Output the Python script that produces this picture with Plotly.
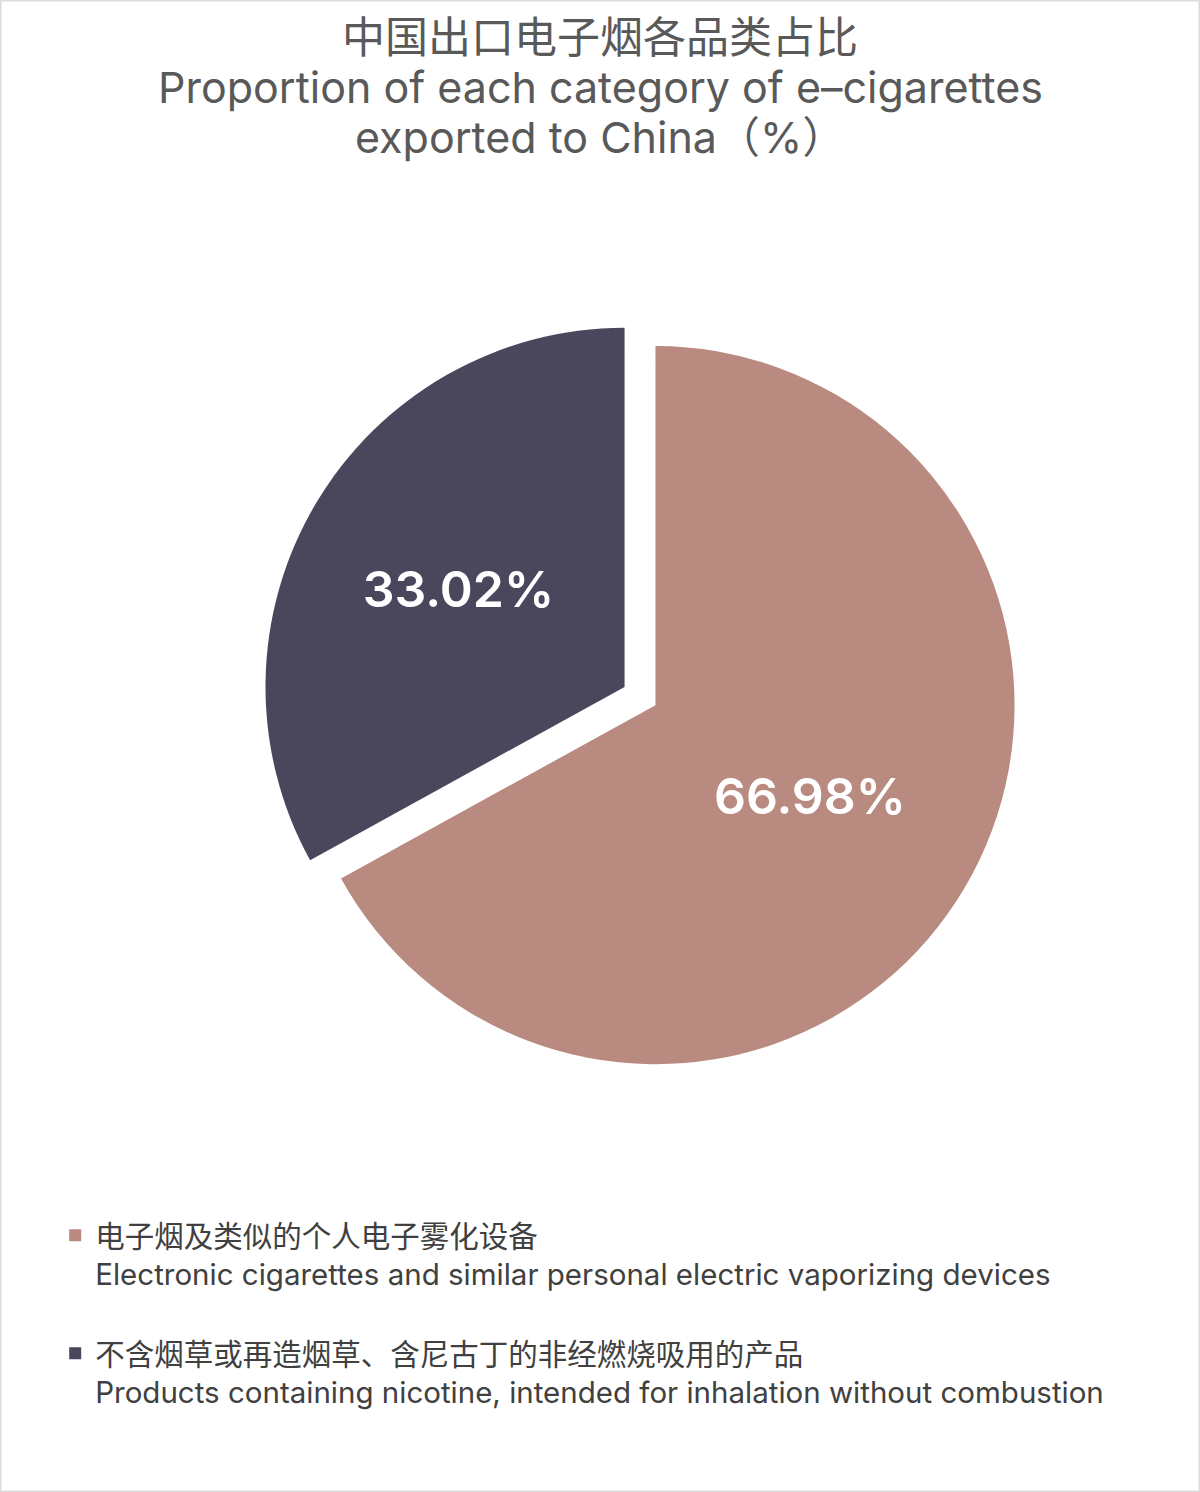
import plotly.graph_objects as go

labels = [
    "电子烟及类似的个人电子雾化设备<br>Electronic cigarettes and similar personal electric vaporizing devices<br> ",
    "不含烟草或再造烟草、含尼古丁的非经燃烧吸用的产品<br>Products containing nicotine, intended for inhalation without combustion",
]
values = [66.98, 33.02]
colors = ["#B98A80", "#4A465C"]

title_lines = [
    "中国出口电子烟各品类占比",
    "Proportion of each category of e–cigarettes",
    "exported to China（%）",
]
title_y_px = [37, 87, 137]
title_sizes = [43, 43, 43]

font_mix = "Inter, Noto Sans CJK SC"

fig = go.Figure()

fig.add_trace(go.Pie(
    labels=labels,
    values=values,
    sort=False,
    direction="clockwise",
    rotation=0,
    pull=[0.05, 0.05],
    marker=dict(colors=colors, line=dict(width=0)),
    texttemplate="%{value:.2f}%",
    textposition="inside",
    insidetextorientation="horizontal",
    textfont=dict(family=font_mix, size=50, color="white", weight=600),
    hoverinfo="label+percent",
    domain=dict(x=[0.0667, 1.0], y=[0.2808, 0.7862]),
))

fig.update_layout(
    width=1200,
    height=1492,
    margin=dict(l=0, r=0, t=0, b=0),
    paper_bgcolor="white",
    plot_bgcolor="white",
    legend=dict(
        x=0.046,
        xanchor="left",
        y=0.1893,
        yanchor="top",
        valign="top",
        font=dict(family=font_mix, size=29.5, color="#404040"),
        bgcolor="rgba(0,0,0,0)",
    ),
    showlegend=True,
)

for line, ypx, size in zip(title_lines, title_y_px, title_sizes):
    fig.add_annotation(
        text=line,
        xref="paper", yref="paper",
        x=0.5, y=1 - ypx / 1492,
        xanchor="center", yanchor="middle",
        showarrow=False,
        font=dict(family=font_mix, size=size, color="#595959"),
    )

# light grey frame round the picture
fig.add_shape(
    type="rect", xref="paper", yref="paper",
    x0=0, y0=0, x1=1, y1=1,
    line=dict(color="#dcdcdc", width=3),
    fillcolor="rgba(0,0,0,0)",
)

fig.write_html(
    "out.html",
    config={"displayModeBar": False},
    post_script="document.body.style.margin='0';",
)
